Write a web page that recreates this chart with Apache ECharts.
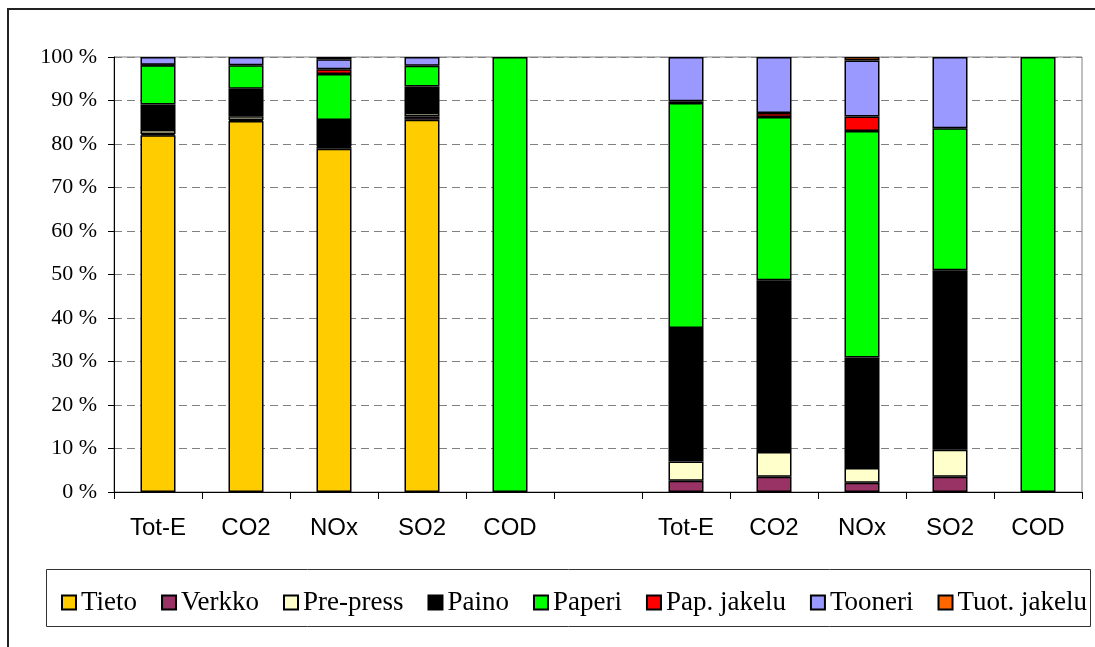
<!DOCTYPE html>
<html>
<head>
<meta charset="utf-8">
<script src="https://cdn.jsdelivr.net/npm/echarts@6/dist/echarts.min.js"></script>
<style>
  html, body { margin: 0; padding: 0; background: #fff; }
  #chart { width: 1095px; height: 647px; }
</style>
</head>
<body>
<div id="chart"></div>
<script>
// Categories: two groups of five impact indicators, separated by an empty slot
const categories = ['Tot-E', 'CO2', 'NOx', 'SO2', 'COD', '', 'Tot-E', 'CO2', 'NOx', 'SO2', 'COD'];

// Share (%) of each life-cycle stage per indicator
const tieto      = [82.0, 85.3, 78.9, 85.6, null, null, null, null, null, null, null];
const verkko     = [0.3, 0.2, 0.4, 0.7, null, null, 2.6, 3.5, 2.1, 3.5, null];
const prePress   = [0.9, 0.9, 0.2, 0.8, null, null, 4.4, 5.7, 3.4, 6.2, null];
const paino      = [5.9, 6.3, 6.0, 6.1, null, null, 30.7, 39.5, 25.4, 41.3, null];
const paperi     = [9.0, 5.4, 10.6, 4.8, 100, null, 51.7, 37.5, 52.1, 32.6, 100];
const papJakelu  = [0.1, null, 1.1, null, null, null, 0.4, 0.9, 3.3, null, null];
const tooneri    = [1.8, 1.9, 2.3, 2.0, null, null, 10.2, 12.9, 12.9, 16.4, null];
const tuotJakelu = [null, null, 0.5, null, null, null, null, null, 0.8, null, null];

const seriesNames  = ['Tieto', 'Verkko', 'Pre-press', 'Paino', 'Paperi', 'Pap. jakelu', 'Tooneri', 'Tuot. jakelu'];
const seriesData   = [tieto, verkko, prePress, paino, paperi, papJakelu, tooneri, tuotJakelu];
const seriesColors = ['#FFCC00', '#993366', '#FFFFCC', '#000000', '#00FF00', '#FF0000', '#9999FF', '#FF6600'];

const chart = echarts.init(document.getElementById('chart'), null, { renderer: 'canvas' });

const series = seriesNames.map((name, i) => ({
  name: name,
  type: 'bar',
  stack: 'total',
  barWidth: 35,
  data: seriesData[i],
  itemStyle: { color: seriesColors[i], borderColor: '#000', borderWidth: 1.5 },
  emphasis: { disabled: true }
}));

chart.setOption({
  animation: false,
  backgroundColor: '#fff',
  graphic: [
    // outer frame
    { type: 'rect', shape: { x: 8, y: 9, width: 1200, height: 800 },
      style: { fill: 'none', stroke: '#222', lineWidth: 2 }, silent: true, z: -1 },
    // legend box
    { type: 'rect', shape: { x: 46.5, y: 569.5, width: 1044, height: 57 },
      style: { fill: '#fff', stroke: '#333', lineWidth: 1 }, silent: true, z: -1 }
  ],
  grid: {
    left: 114, right: 13, top: 57, bottom: 155,
    show: true, borderColor: '#808080', borderWidth: 1, backgroundColor: 'transparent'
  },
  legend: {
    data: seriesNames,
    left: 56,
    top: 584,
    itemWidth: 14,
    itemHeight: 14,
    itemGap: 24,
    icon: 'rect',
    itemStyle: { borderColor: '#000', borderWidth: 2 },
    textStyle: { fontFamily: 'Liberation Serif', fontSize: 27, color: '#000' },
    selectedMode: false
  },
  xAxis: {
    type: 'category',
    data: categories,
    axisLine: { lineStyle: { color: '#000', width: 1 } },
    axisTick: { show: true, length: 7, alignWithLabel: false, lineStyle: { color: '#000' } },
    axisLabel: { fontFamily: 'Liberation Sans', fontSize: 24, color: '#000', margin: 24, interval: 0 },
    splitLine: { show: false }
  },
  yAxis: {
    type: 'value',
    min: 0, max: 100, interval: 10,
    axisLine: { show: true, lineStyle: { color: '#000', width: 1 } },
    axisTick: { show: true, length: 6, lineStyle: { color: '#000' } },
    axisLabel: { formatter: '{value} %', fontFamily: 'Liberation Serif', fontSize: 22, color: '#000', margin: 17 },
    splitLine: { show: true, lineStyle: { color: '#808080', width: 1, type: [8, 5] } }
  },
  series: series
});
</script>
</body>
</html>
